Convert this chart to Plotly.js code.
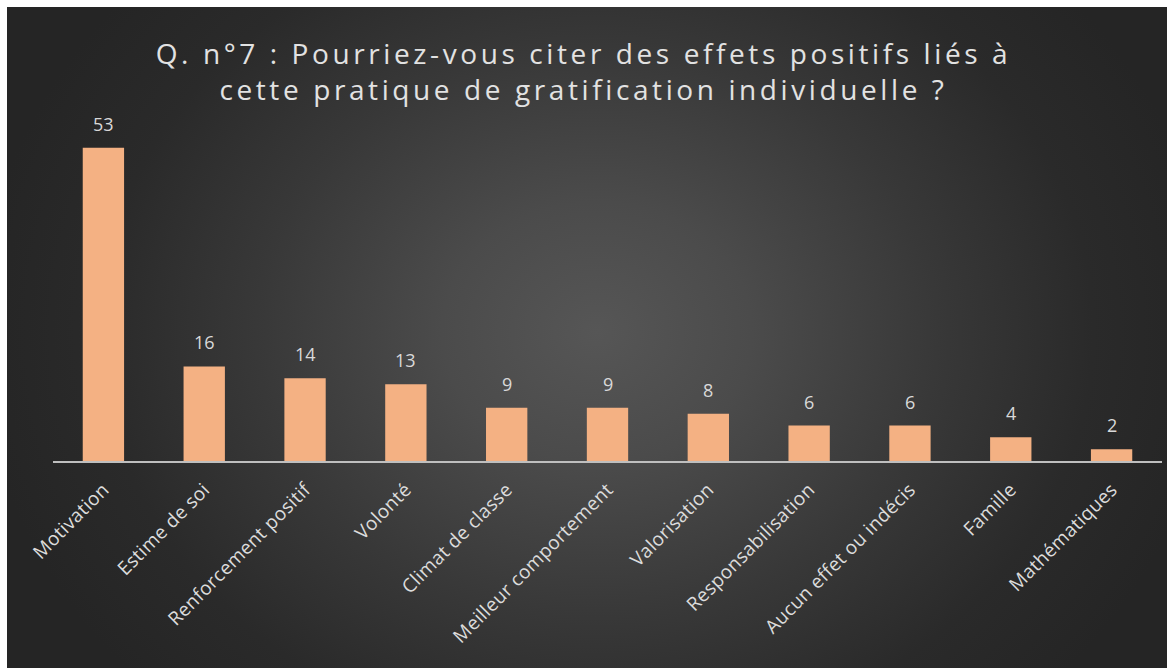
<!DOCTYPE html>
<html>
<head>
<meta charset="utf-8">
<script src="https://cdn.plot.ly/plotly-3.0.1.min.js"></script>
<style>
  html, body { margin: 0; padding: 0; background: #ffffff; }
  #bg {
    position: absolute; left: 7px; top: 7px; width: 1160px; height: 661px;
    background: radial-gradient(ellipse 620px 520px at 590px 325px, #565656 0%, #4b4b4b 25%, #383838 55%, #2a2a2a 80%, #252525 100%);
  }
  #chart { position: absolute; left: 0; top: 0; width: 1167px; height: 668px; }
  #chart .gtitle { letter-spacing: 3.6px; }
  #chart .xtick text { letter-spacing: 0.3px; }
</style>
</head>
<body>
<div id="bg"></div>
<div id="chart"></div>
<script>
const categories = ["Motivation", "Estime de soi", "Renforcement positif", "Volonté", "Climat de classe",
  "Meilleur comportement", "Valorisation", "Responsabilisation", "Aucun effet ou indécis", "Famille", "Mathématiques"];
const values = [53, 16, 14, 13, 9, 9, 8, 6, 6, 4, 2];
const titleText = "Q. n°7 : Pourriez-vous citer des effets positifs liés à<br>cette pratique de gratification individuelle ?";

const trace = {
  type: "bar",
  x: categories,
  y: values,
  cliponaxis: false,
  marker: { color: "#F4B183", line: { width: 0 } },
  hoverinfo: "x+y"
};

const labels = categories.map((c, i) => ({
  x: c, y: values[i], xref: "x", yref: "y",
  text: String(values[i]),
  showarrow: false, yanchor: "bottom", yshift: 10,
  font: { family: "Open Sans, sans-serif", size: 18, color: "#d9d9d9" }
}));

const layout = {
  width: 1167, height: 668,
  paper_bgcolor: "rgba(0,0,0,0)",
  plot_bgcolor: "rgba(0,0,0,0)",
  margin: { l: 53, r: 5, t: 130, b: 207 },
  bargap: 0.59,
  showlegend: false,
  annotations: labels,
  title: {
    text: titleText,
    x: 0.5, xref: "container", xanchor: "center",
    y: 1 - 64 / 668, yref: "container", yanchor: "middle",
    font: { family: "Open Sans, sans-serif", size: 28, color: "#e2e2e2", lineposition: "none" }
  },
  xaxis: {
    type: "category",
    tickangle: -45,
    tickfont: { family: "Open Sans, sans-serif", size: 19, color: "#dcdcdc" },
    ticklabelstandoff: 8,
    showline: true, linecolor: "#bfbfbf", linewidth: 2,
    showgrid: false, ticks: "", zeroline: false
  },
  yaxis: {
    range: [0, 56],
    visible: false, showgrid: false, zeroline: false
  }
};

Plotly.newPlot("chart", [trace], layout, { displayModeBar: false, staticPlot: true });
</script>
</body>
</html>
